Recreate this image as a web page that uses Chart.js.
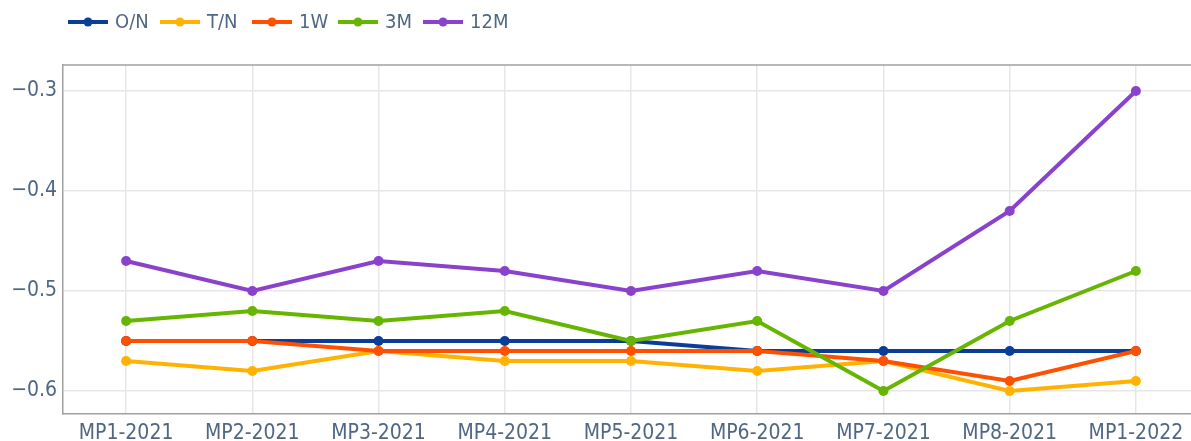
<!DOCTYPE html>
<html>
<head>
<meta charset="utf-8">
<script src="https://cdn.jsdelivr.net/npm/chart.js@4/dist/chart.umd.min.js"></script>
<style>
  body { margin: 0; background: #fff; overflow: hidden; }
  #wrap { position: relative; width: 1191px; height: 441px; overflow: hidden; }
  canvas { display: block; }
</style>
</head>
<body>
<div id="wrap"><canvas id="rateChart" width="1204" height="441"></canvas></div>
<script>
// periods on the x axis
const periods = ["MP1-2021", "MP2-2021", "MP3-2021", "MP4-2021", "MP5-2021",
                 "MP6-2021", "MP7-2021", "MP8-2021", "MP1-2022"];

// rates per tenor
const onRate  = [-0.55, -0.55, -0.55, -0.55, -0.55, -0.56, -0.56, -0.56, -0.56];
const tnRate  = [-0.57, -0.58, -0.56, -0.57, -0.57, -0.58, -0.57, -0.60, -0.59];
const w1Rate  = [-0.55, -0.55, -0.56, -0.56, -0.56, -0.56, -0.57, -0.59, -0.56];
const m3Rate  = [-0.53, -0.52, -0.53, -0.52, -0.55, -0.53, -0.60, -0.53, -0.48];
const m12Rate = [-0.47, -0.50, -0.47, -0.48, -0.50, -0.48, -0.50, -0.42, -0.30];

const seriesNames = ["O/N", "T/N", "1W", "3M", "12M"];
const yTicks = [-0.6, -0.5, -0.4, -0.3];

const colors = ["#0a3d98", "#ffb300", "#ff4f00", "#66b500", "#8a42cc"];
const FONT = "'DejaVu Sans Condensed', 'DejaVu Sans', sans-serif";
const TEXT_COLOR = "#506784";

function makeSet(name, values, i) {
    return {
        label: name,
        data: values,
        borderColor: colors[i],
        backgroundColor: colors[i],
        borderWidth: 4,
        pointRadius: 5,
        pointHoverRadius: 5,
        pointBorderWidth: 0,
        tension: 0,
        order: 10 - i   // later series on top
    };
}

// legend drawn across the top + the frame line along the top edge
const topStuff = {
    id: "topStuff",
    afterDraw(chart) {
        const ctx = chart.ctx;
        const area = chart.chartArea;
        ctx.save();
        ctx.strokeStyle = "#a0a0a0";
        ctx.lineWidth = 1.5;
        ctx.beginPath();
        ctx.moveTo(area.left, area.top);
        ctx.lineTo(area.right, area.top);
        ctx.stroke();

        const starts = [68, 160, 252, 338, 423];
        const y = 22;
        ctx.font = "20px " + FONT;
        ctx.textBaseline = "middle";
        seriesNames.forEach((name, i) => {
            const x = starts[i];
            ctx.strokeStyle = colors[i];
            ctx.lineWidth = 4;
            ctx.beginPath();
            ctx.moveTo(x, y);
            ctx.lineTo(x + 40, y);
            ctx.stroke();
            ctx.fillStyle = colors[i];
            ctx.beginPath();
            ctx.arc(x + 20, y, 4.5, 0, Math.PI * 2);
            ctx.fill();
            ctx.fillStyle = TEXT_COLOR;
            ctx.fillText(name, x + 47, y + 1);
        });
        ctx.restore();
    }
};

new Chart(document.getElementById("rateChart"), {
    type: "line",
    data: {
        labels: periods,
        datasets: [
            makeSet(seriesNames[0], onRate, 0),
            makeSet(seriesNames[1], tnRate, 1),
            makeSet(seriesNames[2], w1Rate, 2),
            makeSet(seriesNames[3], m3Rate, 3),
            makeSet(seriesNames[4], m12Rate, 4)
        ]
    },
    options: {
        responsive: false,
        animation: false,
        layout: { padding: { top: 65, right: 0, left: 0, bottom: 0 } },
        plugins: {
            legend: { display: false },
            tooltip: { enabled: false }
        },
        scales: {
            x: {
                offset: true,
                grid: { color: "#e8e5ea", lineWidth: 1.5, drawTicks: false },
                border: { color: "#a0a0a0", width: 1.5 },
                ticks: { color: TEXT_COLOR, font: { family: FONT, size: 21 }, padding: 7, maxRotation: 0, autoSkip: false },
                afterFit(scale) {
                    scale.height = 27;
                    scale.paddingLeft = 0;
                    scale.paddingRight = 0;
                }
            },
            y: {
                min: -0.623,
                max: -0.274,
                afterBuildTicks(scale) { scale.ticks = yTicks.map(v => ({ value: v })); },
                grid: { color: "#e8e5ea", lineWidth: 1.5, drawTicks: false },
                border: { color: "#a0a0a0", width: 1.5 },
                ticks: {
                    color: TEXT_COLOR,
                    font: { family: FONT, size: 21 },
                    padding: 6,
                    callback: v => "\u2212" + Math.abs(v).toFixed(1)
                },
                afterFit(scale) {
                    scale.width = 63;
                    scale.paddingTop = 0;
                    scale.paddingBottom = 0;
                }
            }
        }
    },
    plugins: [topStuff]
});
</script>
</body>
</html>
